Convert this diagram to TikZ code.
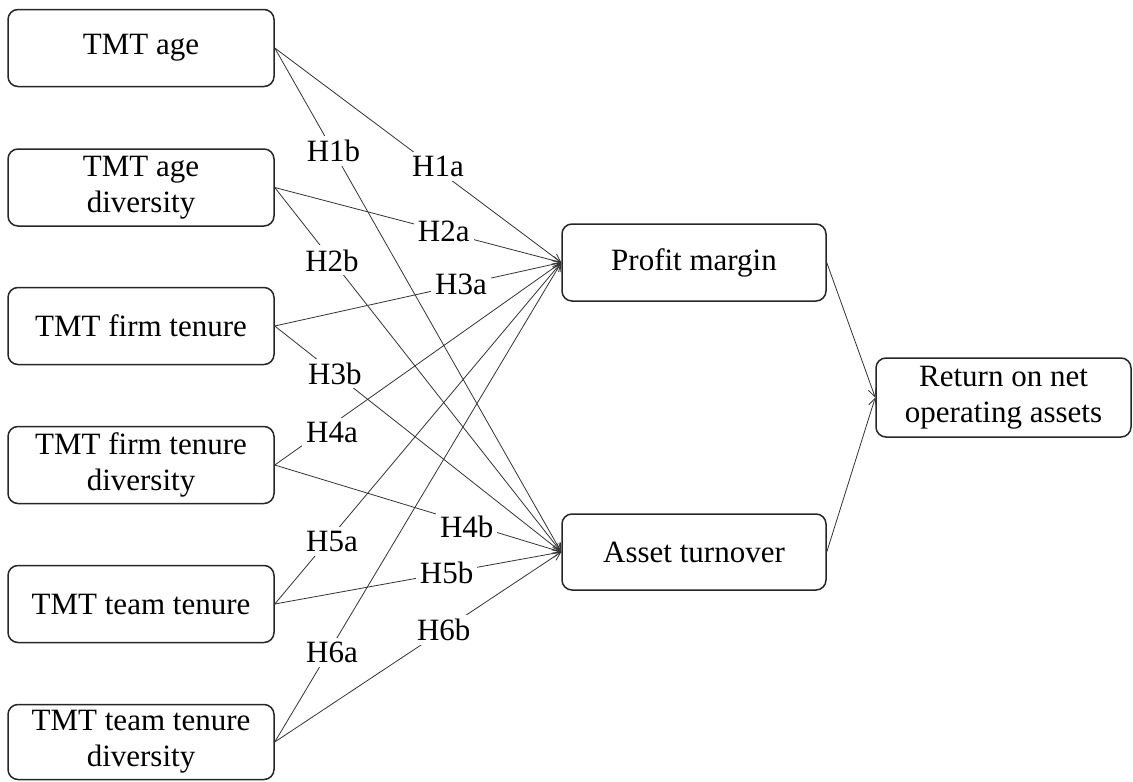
\documentclass[tikz,border=0pt]{standalone}
\usepackage{fontspec}
\setmainfont{Liberation Serif}
\usetikzlibrary{arrows.meta}
\begin{document}
\begin{tikzpicture}[x=1pt,y=-1pt,
  box/.style={draw=black!85, line width=1.5pt, rounded corners=10pt, minimum width=266pt, minimum height=77pt, inner sep=0pt, align=center, font=\fontsize{31}{36}\selectfont},
  lab/.style={fill=white, inner sep=4pt, font=\fontsize{31}{36}\selectfont},
  conn/.style={draw=black!80, line width=0.8pt, -{Straight Barb[length=8pt,width=8pt]}}]
\useasboundingbox (0,0) rectangle (1133,782);
% left boxes
\node[box] (s1) at (141,48) {TMT age};
\node[box] (s2) at (141,187.5) {TMT age\\diversity};
\node[box] (s3) at (141,326) {TMT firm tenure};
\node[box] (s4) at (141,465) {TMT firm tenure\\diversity};
\node[box] (s5) at (141,604) {TMT team tenure};
\node[box, minimum height=75pt] (s6) at (141,742) {TMT team tenure\\diversity};
% mediators
\node[box, minimum width=264pt] (pm) at (694,262.5) {Profit margin};
\node[box, minimum width=264pt, minimum height=76pt] (at) at (694,552) {Asset turnover};
% outcome
\node[box, minimum width=255pt, minimum height=79pt] (ret) at (1003.5,397.5) {Return on net\\operating assets};
% connectors
\draw[conn] (s1.east) -- (pm.west);
\draw[conn] (s1.east) -- (at.west);
\draw[conn] (s2.east) -- (pm.west);
\draw[conn] (s2.east) -- (at.west);
\draw[conn] (s3.east) -- (pm.west);
\draw[conn] (s3.east) -- (at.west);
\draw[conn] (s4.east) -- (pm.west);
\draw[conn] (s4.east) -- (at.west);
\draw[conn] (s5.east) -- (pm.west);
\draw[conn] (s5.east) -- (at.west);
\draw[conn] (s6.east) -- (pm.west);
\draw[conn] (s6.east) -- (at.west);
\draw[conn] (pm.east) -- (ret.west);
\draw[conn] (at.east) -- (ret.west);
% labels
\path (s1.east) -- (pm.west) node[lab,pos=0.57,yshift=4pt] (h1a) {H1a};
\path (s1.east) -- (at.west) node[lab,pos=0.205] (h1b) {H1b};
\path (s2.east) -- (pm.west) node[lab,pos=0.59] (h2a) {H2a};
\path (s2.east) -- (at.west) node[lab,pos=0.20] (h2b) {H2b};
\path (s3.east) -- (pm.west) node[lab,pos=0.65] (h3a) {H3a};
\path (s3.east) -- (at.west) node[lab,pos=0.21] (h3b) {H3b};
\path (s4.east) -- (pm.west) node[lab,pos=0.20,yshift=-8pt] (h4a) {H4a};
\path (s4.east) -- (at.west) node[lab,pos=0.67,yshift=-4pt] (h4b) {H4b};
\path (s5.east) -- (pm.west) node[lab,pos=0.20,yshift=-6pt] (h5a) {H5a};
\path (s5.east) -- (at.west) node[lab,pos=0.60] (h5b) {H5b};
\path (s6.east) -- (pm.west) node[lab,pos=0.20,yshift=-6pt] (h6a) {H6a};
\path (s6.east) -- (at.west) node[lab,pos=0.59] (h6b) {H6b};
\end{tikzpicture}
\end{document}
